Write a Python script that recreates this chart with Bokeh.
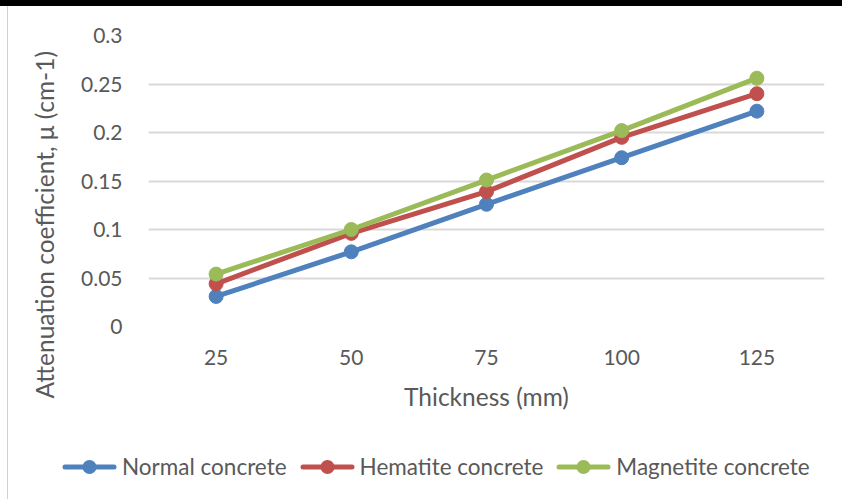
from bokeh.plotting import figure
from bokeh.models import FactorRange, Range1d, Div, FixedTicker, Title
from bokeh.layouts import column, row
from bokeh.embed import file_html
from bokeh.resources import INLINE

thickness = ["25", "50", "75", "100", "125"]
normal = [0.031, 0.077, 0.126, 0.174, 0.222]
hematite = [0.044, 0.096, 0.139, 0.195, 0.240]
magnetite = [0.054, 0.100, 0.151, 0.202, 0.256]
series_names = ["Normal concrete", "Hematite concrete", "Magnetite concrete"]
colors = ["#4F81BD", "#C0504D", "#9BBB59"]
y_ticks = [0, 0.05, 0.1, 0.15, 0.2, 0.25, 0.3]

FONT = "Lato"
TXT = "#595959"

p = figure(frame_width=676, frame_height=291, x_range=FactorRange(*thickness, range_padding=0),
           y_range=Range1d(0, 0.3), output_backend="svg", toolbar_location=None,
           min_border_left=139, min_border_right=19, min_border_top=29, min_border_bottom=128,
           margin=0)
p.outline_line_color = None
p.background_fill_color = "white"
p.border_fill_color = "white"

p.xgrid.grid_line_color = None
p.ygrid.grid_line_color = "#D9D9D9"
p.ygrid.grid_line_width = 2
p.yaxis.ticker = FixedTicker(ticks=y_ticks)
p.yaxis.major_label_overrides = {0: "0", 0.05: "0.05", 0.1: "0.1", 0.15: "0.15",
                                 0.2: "0.2", 0.25: "0.25", 0.3: "0.3"}

for ax in (p.xaxis[0], p.yaxis[0]):
    ax.axis_line_color = None
    ax.major_tick_line_color = None
    ax.minor_tick_line_color = None
    ax.major_label_text_font = FONT
    ax.major_label_text_font_size = "21px"
    ax.major_label_text_color = TXT
    ax.axis_label_text_font = FONT
    ax.axis_label_text_font_size = "24.5px"
    ax.axis_label_text_color = TXT
    ax.axis_label_text_font_style = "normal"

p.xaxis.axis_label = "Thickness (mm)"
p.xaxis.major_label_standoff = 17
p.xaxis.axis_label_standoff = 14
p.yaxis.major_label_standoff = 20

ytitle = Title(text="Attenuation coefficient, \u03bc (cm-1)", align="left", offset=-72,
               text_font=FONT, text_font_size="24.5px", text_color=TXT,
               text_font_style="normal", standoff=39)
p.add_layout(ytitle, "left")

for name, vals, c in zip(series_names, [normal, hematite, magnetite], colors):
    p.line(thickness, vals, line_color=c, line_width=5)
    p.scatter(thickness, vals, size=14, fill_color=c, line_color=c)

# HTML legend strip below the chart
item_html = []
for name, c in zip(series_names, colors):
    item_html.append(
        '<span style="display:inline-flex;align-items:center;margin-right:13px">'
        f'<svg width="55" height="22"><line x1="3" y1="11" x2="52" y2="11" stroke="{c}" '
        f'stroke-width="5" stroke-linecap="round"/><circle cx="27.5" cy="11" r="7" fill="{c}"/></svg>'
        f'<span style="margin-left:5px">{name}</span></span>'
    )
legend_html = (
    f'<div style="display:flex;align-items:center;height:26px;padding-left:54px;'
    f'font-family:Lato;font-size:22.5px;color:{TXT};white-space:nowrap">'
    + "".join(item_html) + "</div>"
)
legend_div = Div(text=legend_html, width=834, height=45, margin=0)

top_bar = Div(width=842, height=6, margin=0, styles={"background-color": "black"})
left_line = Div(width=8, height=493, margin=0,
                styles={"border-right": "1px solid #D0D0D0", "box-sizing": "border-box"})
layout = column(top_bar, row(left_line, column(p, legend_div, spacing=0), spacing=0), spacing=0)

open("out.html", "w").write(file_html(layout, INLINE))
